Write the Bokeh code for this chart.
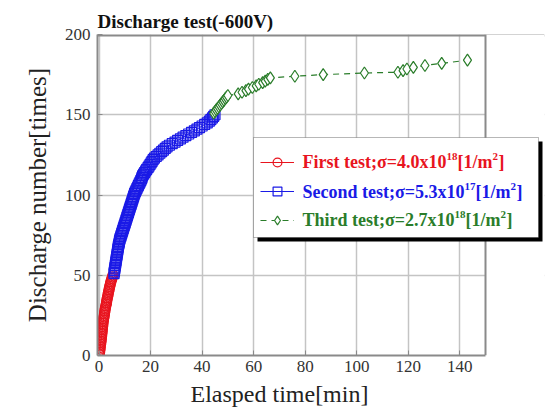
from bokeh.plotting import figure
from bokeh.models import (Range1d, FixedTicker, Legend, LegendItem, BoxAnnotation,
                          Label, Span, Title)
from bokeh.embed import file_html
from bokeh.resources import INLINE

# ---- data ----
red_x = [0.1, 0.2, 0.3, 0.35, 0.45, 0.5, 0.6, 0.7, 0.75, 0.85,
         0.9, 1.0, 1.05, 1.1, 1.2, 1.25, 1.3, 1.4, 1.45, 1.5,
         1.6, 1.7, 1.8, 1.9, 2.0, 2.1, 2.2, 2.3, 2.4, 2.5,
         2.65, 2.8, 2.9, 3.0, 3.1, 3.25, 3.4, 3.5, 3.6, 3.75,
         3.9, 4.0, 4.15, 4.3, 4.45, 4.6, 4.8, 5.0, 5.2, 5.4]
red_y = [1, 2, 3, 4, 5, 6, 7, 8, 9, 10,
         11, 12, 13, 14, 15, 16, 17, 18, 19, 20,
         21, 22, 23, 24, 25, 26, 27, 28, 29, 30,
         31, 32, 33, 34, 35, 36, 37, 38, 39, 40,
         41, 42, 43, 44, 45, 46, 47, 48, 49, 50]

blue_x = [5.8, 5.9, 6.0, 6.1, 6.2, 6.3, 6.4, 6.5, 6.6, 6.7,
          6.8, 6.9, 7.0, 7.1, 7.2, 7.3, 7.4, 7.5, 7.6, 7.8,
          7.9, 8.0, 8.2, 8.4, 8.6, 8.8, 9.0, 9.2, 9.4, 9.6,
          9.8, 10.0, 10.2, 10.4, 10.6, 10.8, 11.0, 11.2, 11.4, 11.6,
          11.8, 12.0, 12.2, 12.4, 12.6, 12.8, 13.0, 13.2, 13.4, 13.6,
          13.8, 14.1, 14.4, 14.7, 15.0, 15.3, 15.6, 15.9, 16.2, 16.5,
          16.7, 16.9, 17.3, 17.7, 18.1, 18.5, 19.0, 19.4, 19.8, 20.2,
          20.6, 21.0, 21.5, 22.2, 22.9, 23.6, 24.3, 25.0, 25.7, 26.4,
          27.3, 28.4, 29.5, 30.5, 31.6, 32.6, 33.7, 34.8, 35.9, 37.0,
          38.0, 39.0, 40.0, 41.0, 42.0, 42.8, 43.4, 44.0, 44.5, 45.0]
blue_y = [51, 52, 53, 54, 55, 56, 57, 58, 59, 60,
          61, 62, 63, 64, 65, 66, 67, 68, 69, 70,
          71, 72, 73, 74, 75, 76, 77, 78, 79, 80,
          81, 82, 83, 84, 85, 86, 87, 88, 89, 90,
          91, 92, 93, 94, 95, 96, 97, 98, 99, 100,
          101, 102, 103, 104, 105, 106, 107, 108, 109, 110,
          111, 112, 113, 114, 115, 116, 117, 118, 119, 120,
          121, 122, 123, 124, 125, 126, 127, 128, 129, 130,
          131, 132, 133, 134, 135, 136, 137, 138, 139, 140,
          141, 142, 143, 144, 145, 146, 147, 148, 149, 150]

green_x = [44.5, 45.0, 45.5, 46.0, 46.5, 47.0, 47.5, 48.0, 48.5, 49.0, 49.5, 50.0,
           54.0, 55.5, 57.0, 58.0, 59.5, 61.0, 62.0, 63.5, 64.5, 65.5, 66.5,
           76.0, 87.0, 103.0, 116.0, 118.0, 119.5, 122.0, 126.5, 133.0, 143.0]
green_y = [151, 152, 153, 154, 155, 156, 157, 158, 159, 160, 161, 162,
           163, 164, 165, 166, 167, 168, 169, 170, 171, 172, 173,
           174, 175, 176, 176.5, 177.5, 178.5, 179.5, 180.7, 182, 184]

x_ticks = [0, 20, 40, 60, 80, 100, 120, 140]
y_ticks = [0, 50, 100, 150, 200]
x_lo, x_hi = -0.6, 150
y_lo, y_hi = 0, 200

# legend text split into (main, exponent, unit, unit exponent, close)
legend_main = ["First test;σ=4.0x10", "Second test;σ=5.3x10", "Third test;σ=2.7x10"]
legend_exp = ["18", "17", "18"]
legend_unit = "[1/m"
legend_unit_exp = "2"
legend_close = "]"

RED = "#e8141e"
BLUE = "#1a1ae6"
GREEN = "#2a7d2a"
FRAME = "#8a8a8a"
SERIF = "Liberation Serif"

FL, FT, FR, FB = 97, 34, 485, 355   # visible plot box on the page
W, H = 546, 415
CANVAS_FR = 544                      # real frame extends right to hold the legend
ppu = (FR - FL) / (x_hi - x_lo)
x_end = x_lo + (CANVAS_FR - FL) / ppu

p = figure(width=W, height=H, output_backend="svg", toolbar_location=None,
           x_range=Range1d(x_lo, x_end), y_range=Range1d(y_lo, y_hi),
           min_border_left=FL, min_border_right=W - CANVAS_FR, min_border_top=FT,
           min_border_bottom=H - FB)

p.title.text = "Discharge test(-600V)"
p.title.text_font = SERIF
p.title.text_font_size = "19px"
p.title.text_font_style = "bold"
p.title.text_color = "#111111"
p.title.align = "left"
p.title.offset = 0
p.title.standoff = 6

p.background_fill_color = "white"
p.border_fill_color = "white"
p.outline_line_color = None

for ax in (p.xaxis[0], p.yaxis[0]):
    ax.axis_line_color = FRAME
    ax.axis_line_width = 2
    ax.major_tick_in = 5
    ax.major_tick_out = 0
    ax.minor_tick_line_color = None
    ax.major_tick_line_color = FRAME
    ax.major_label_text_font = SERIF
    ax.major_label_text_font_size = "17px"
    ax.major_label_text_color = "#333333"
    ax.axis_label_text_font = SERIF
    ax.axis_label_text_font_size = "25px"
    ax.axis_label_text_font_style = "normal"
    ax.axis_label_text_color = "#222222"

p.xaxis.bounds = (x_lo, x_hi)
p.xaxis.ticker = FixedTicker(ticks=x_ticks)
p.yaxis.ticker = FixedTicker(ticks=y_ticks)
p.yaxis.axis_label = "Discharge number[times]"
p.xaxis.major_label_standoff = 5
p.yaxis.major_label_standoff = 7
p.yaxis.axis_label_standoff = 11

# x-axis title, centred under the visible plot box (the real frame is wider)
p.add_layout(Title(text="Elasped time[min]", align="left", offset=190 - FL,
                   text_font=SERIF, text_font_size="24px", text_font_style="normal",
                   text_color="#222222", standoff=8), "below")

p.grid.grid_line_color = "#c4c4c4"
p.grid.grid_line_width = 1.5

r_line = p.line(red_x, red_y, line_color=RED, line_width=1)
r_sc = p.scatter(red_x, red_y, marker="circle", size=10, line_color=RED,
                 fill_alpha=0, line_width=1.2)
b_line = p.line(blue_x, blue_y, line_color=BLUE, line_width=1)
b_sc = p.scatter(blue_x, blue_y, marker="square", size=10, line_color=BLUE,
                 fill_alpha=0, line_width=1.2)
g_line = p.line(green_x, green_y, line_color=GREEN, line_width=1.2,
                line_dash="6 5")
g_sc = p.scatter(green_x, green_y, marker="diamond", size=12, line_color=GREEN,
                 fill_color="white", line_width=1.2)

# top border of the plot box, then hide everything right of x_hi, then right border
p.add_layout(Span(location=y_hi, dimension="width", line_color=FRAME, line_width=4))
p.add_layout(BoxAnnotation(left=x_hi, right=x_end, fill_color="white", fill_alpha=1,
                           line_color=None))
p.add_layout(Span(location=x_hi, dimension="height", line_color=FRAME, line_width=2))

# legend box with shadow (screen units are relative to the frame, y upward)
bx0, bx1, by_top, by_bot = 253 - FL, 538 - FL, FB - 137, FB - 237
p.add_layout(BoxAnnotation(left=bx0 + 4, right=bx1 + 4, bottom=by_bot - 4, top=by_top - 4,
                           left_units="screen", right_units="screen",
                           bottom_units="screen", top_units="screen",
                           fill_color="black", fill_alpha=1, line_color=None))
p.add_layout(BoxAnnotation(left=bx0, right=bx1, bottom=by_bot, top=by_top,
                           left_units="screen", right_units="screen",
                           bottom_units="screen", top_units="screen",
                           fill_color="white", fill_alpha=1,
                           line_color="#111111", line_width=1))

legend = Legend(items=[
    LegendItem(label=" ", renderers=[r_line, r_sc]),
    LegendItem(label=" ", renderers=[b_line, b_sc]),
    LegendItem(label=" ", renderers=[g_line, g_sc]),
], location=(260 - FL, FB - 231))
legend.border_line_color = None
legend.background_fill_alpha = 0
legend.label_text_font_size = "1px"
legend.label_width = 0
legend.label_standoff = 0
legend.glyph_width = 34
legend.glyph_height = 22
legend.label_height = 22
legend.spacing = 7
legend.padding = 0
legend.margin = 0
p.add_layout(legend)

row_y = [161.7, 191.7, 219.5]
main_w = [144, 162, 152]
colors = [RED, BLUE, GREEN]
for i in range(3):
    ys = FB - row_y[i]
    x0 = 302 - FL
    pieces = [(legend_main[i], 0, 18, 0),
              (legend_exp[i], main_w[i], 11, 6),
              (legend_unit, main_w[i] + 11, 18, 0),
              (legend_unit_exp, main_w[i] + 11 + 35, 11, 6),
              (legend_close, main_w[i] + 11 + 35 + 6, 18, 0)]
    for txt, dx, fs, dy in pieces:
        p.add_layout(Label(x=x0 + dx, y=ys + dy, x_units="screen", y_units="screen",
                           text=txt, text_font=SERIF, text_font_size=f"{fs}px",
                           text_font_style="bold", text_color=colors[i],
                           text_baseline="middle", text_align="left"))

open("out.html", "w").write(file_html(p, INLINE))
